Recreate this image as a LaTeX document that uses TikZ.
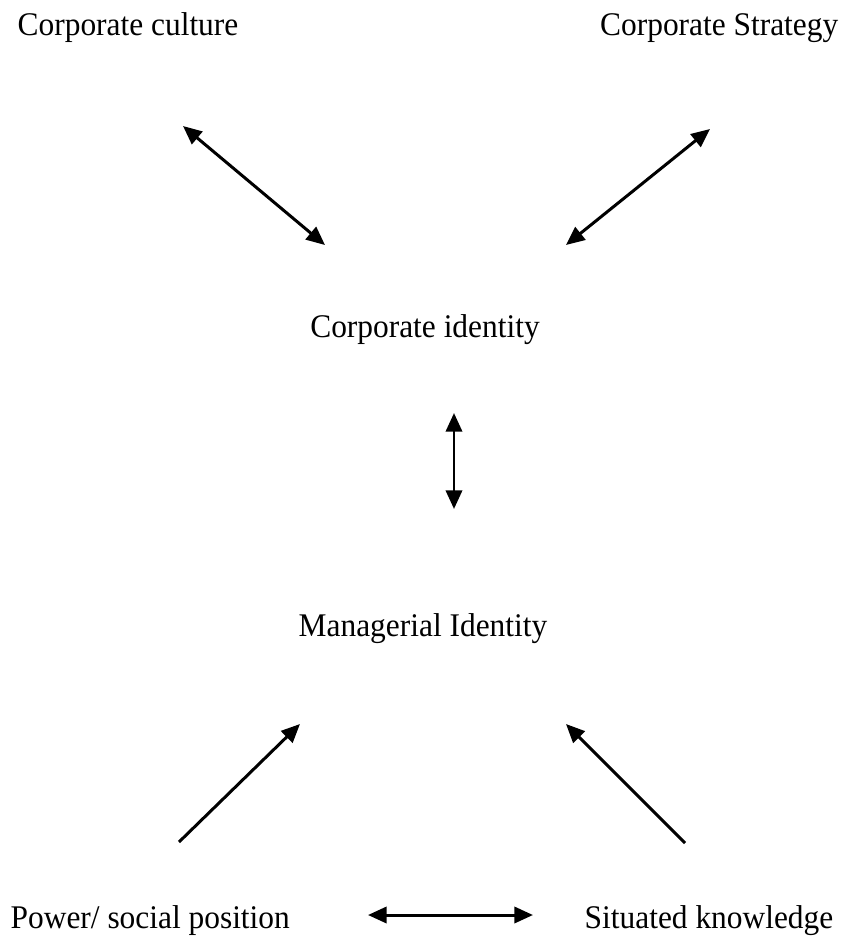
\documentclass[tikz,border=0pt]{standalone}
\usepackage{fontspec}
\setmainfont{Liberation Serif}
\usetikzlibrary{arrows.meta}
\newcommand{\sqz}[1]{\scalebox{0.95}[1]{#1}}
\tikzset{
  lbl/.style={inner sep=0pt, font=\fontsize{9.4}{11}\selectfont},
  tip/.style={},
  arr/.style={line width=0.85pt, {Triangle[length=5.3pt,width=4.6pt]}-{Triangle[length=5.3pt,width=4.6pt]}},
  arrone/.style={line width=0.85pt, -{Triangle[length=5.3pt,width=4.6pt]}}
}
\begin{document}
\begin{tikzpicture}[x=0.01cm,y=-0.01cm]
\useasboundingbox (0,0) rectangle (844,941);
\node[lbl, anchor=base west] (cc) at (17,35) {\sqz{Corporate culture}};
\node[lbl, anchor=base east] (cs) at (839,35) {\sqz{Corporate Strategy}};
\node[lbl, anchor=base] (ci) at (425,337) {\sqz{Corporate identity}};
\node[lbl, anchor=base] (mi) at (423,636) {\sqz{Managerial Identity}};
\node[lbl, anchor=base west] (ps) at (10,928) {\sqz{Power/ social position}};
\node[lbl, anchor=base east] (sk) at (834,928) {\sqz{Situated knowledge}};
\coordinate (a1) at (183,126); \coordinate (a2) at (325,245);
\coordinate (b1) at (710,129); \coordinate (b2) at (566,245);
\coordinate (c1) at (454,413); \coordinate (c2) at (454,509);
\coordinate (d1) at (179,842); \coordinate (d2) at (300,724);
\coordinate (e1) at (685,843); \coordinate (e2) at (566,724);
\coordinate (f1) at (368,915); \coordinate (f2) at (533,915);
\draw[arr] (a1) -- (a2);
\draw[arr] (b1) -- (b2);
\draw[arr] (c1) -- (c2);
\draw[arrone] (d1) -- (d2);
\draw[arrone] (e1) -- (e2);
\draw[arr] (f1) -- (f2);
\end{tikzpicture}
\end{document}
